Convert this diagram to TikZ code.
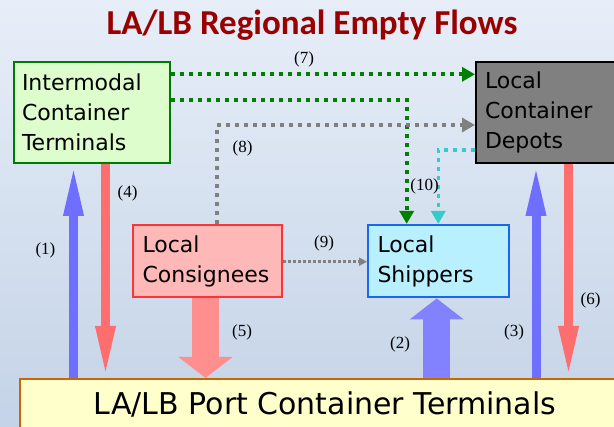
\documentclass[tikz,border=0pt]{standalone}
\usepackage{fontspec}
\setmainfont{DejaVu Sans}
\newfontfamily\titlefont{Carlito}
\newfontfamily\numfont{Liberation Serif}
\usetikzlibrary{arrows.meta}
\definecolor{bgtop}{HTML}{E7EEF8}
\definecolor{bgbot}{HTML}{C4D3E7}
\definecolor{titlered}{HTML}{990000}
\definecolor{ictfill}{HTML}{DDFDCC}
\definecolor{ictline}{HTML}{007A00}
\definecolor{consfill}{HTML}{FFB8B8}
\definecolor{consline}{HTML}{FF3333}
\definecolor{shipfill}{HTML}{B8F0FF}
\definecolor{shipline}{HTML}{1A66EE}
\definecolor{portfill}{HTML}{FFFFCC}
\definecolor{portline}{HTML}{CC6600}
\definecolor{flowgreen}{HTML}{008000}
\definecolor{flowgray}{HTML}{808080}
\definecolor{flowcyan}{HTML}{33CCCC}
\definecolor{upblue}{HTML}{6E6EFF}
\definecolor{downred}{HTML}{FF6E6E}
\definecolor{bigblue}{HTML}{8282FF}
\definecolor{bigred}{HTML}{FF8E8E}

\begin{document}
\begin{tikzpicture}[x=1pt, y=-1pt,
  box/.style={draw, line width=2pt, align=left, inner sep=0pt, font=\fontsize{22}{30}\selectfont},
  num/.style={font=\numfont\fontsize{17}{17}\selectfont, inner sep=0pt},
  slimarrow/.style={line width=9pt, -{Triangle[width=18pt, length=52pt]}},
  widearrow/.style={line width=27pt, -{Triangle[width=53pt, length=21pt]}},
  flow/.style={line width=4pt, dash pattern=on 4pt off 5pt, -{Triangle[width=14pt, length=13pt]}},
  smallflow/.style={line width=2.5pt, dash pattern=on 2.5pt off 2.5pt, -{Triangle[width=8pt, length=8pt]}}]
  \useasboundingbox (0,0) rectangle (614,427);
  \clip (0,0) rectangle (614,427);
  \shade[top color=bgtop, bottom color=bgbot] (0,0) rectangle (614,427);

  \node[font=\titlefont\bfseries\fontsize{35}{35}\selectfont, text=titlered, anchor=base] (title) at (312,34.3) {LA/LB Regional Empty Flows};

  % boxes
  \node[box, draw=ictline, fill=ictfill, minimum width=156, minimum height=101, text width=140] (ict) at (92,112.5) {Intermodal\\Container\\Terminals};
  \node[box, draw=black, fill=flowgray, minimum width=146, minimum height=101, text width=128] (lcd) at (549,112.5) {Local\\Container\\Depots};
  \node[box, draw=consline, fill=consfill, minimum width=149, minimum height=72.5, text width=130] (cons) at (207.5,261.2) {Local\\Consignees};
  \node[box, draw=shipline, fill=shipfill, minimum width=141, minimum height=72.5, text width=122] (ship) at (438.5,261.2) {Local\\Shippers};
  \node[draw=portline, fill=portfill, line width=2pt, minimum width=610, minimum height=64, text depth=16pt, inner sep=0pt, font=\fontsize{30}{30}\selectfont] (port) at (325,411) {LA/LB Port Container Terminals};

  % loaded-empty moves to and from the port
  \draw[slimarrow, upblue] (73.5,0 |- port.north) -- (73.5,0 |- ict.south);
  \draw[slimarrow, downred] (105.5,0 |- ict.south) -- (105.5,0 |- port.north);
  \draw[widearrow, bigred] (205.5,0 |- cons.south) -- (205.5,0 |- port.north);
  \draw[widearrow, bigblue] (436.7,0 |- port.north) -- (436.7,0 |- ship.south);
  \draw[slimarrow, upblue] (536,0 |- port.north) -- (536,0 |- lcd.south);
  \draw[slimarrow, downred] (568.5,0 |- lcd.south) -- (568.5,0 |- port.north);

  % local moves
  \draw[flow, flowgreen] (ict.east |- 0,74.3) -- (lcd.west |- 0,74.3);
  \draw[flow, flowgreen] (ict.east |- 0,100) -| (406.7,0 |- ship.north);
  \draw[flow, flowgray, line width=3.5pt] (217,0 |- cons.north) |- (lcd.west |- 0,125);
  \draw[flow, flowcyan, line width=3.5pt] (lcd.west |- 0,150) -| (438.3,0 |- ship.north);
  \draw[smallflow, flowgray] (cons.east |- 0,261.7) -- (ship.west |- 0,261.7);

  % flow numbers
  \node[num] (n1) at (45.5,250) {(1)};
  \node[num] (n2) at (400,344) {(2)};
  \node[num] (n3) at (514,332) {(3)};
  \node[num] (n4) at (127.5,193) {(4)};
  \node[num] (n5) at (242,332) {(5)};
  \node[num] (n6) at (590.5,300) {(6)};
  \node[num] (n7) at (304,59) {(7)};
  \node[num] (n8) at (242.5,148) {(8)};
  \node[num] (n9) at (324,243) {(9)};
  \node[num] (n10) at (424.5,186.7) {(10)};
\end{tikzpicture}
\end{document}
